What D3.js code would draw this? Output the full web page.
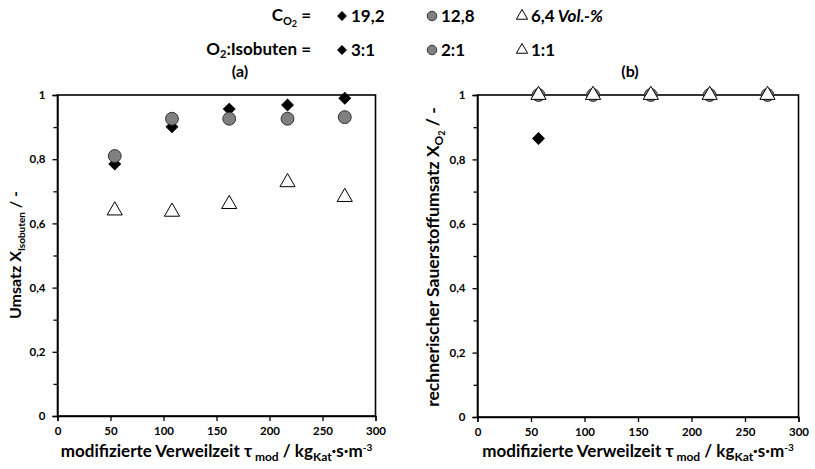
<!DOCTYPE html>
<meta charset="utf-8">
<script src="https://d3js.org/d3.v7.min.js"></script>
<style>
body { margin: 0; background: #fff; }
svg { font-family: Lato, "Open Sans", sans-serif; font-weight: bold; }
.axis path, .axis line { stroke: #000; stroke-width: 1.3; }
.axis text { font-size: 11.5px; font-weight: bold; fill: #000; font-family: Lato, sans-serif; }
.frame { fill: none; stroke: #000; stroke-width: 1.6; }
</style>
<body>
<script>

// data
var tau = [54, 108, 162, 217, 271];
var umsatz_19 = [0.785, 0.901, 0.956, 0.969, 0.99];
var umsatz_12 = [0.81, 0.926, 0.926, 0.926, 0.931];
var umsatz_6 = [0.64, 0.636, 0.66, 0.728, 0.682];
var tau_o2 = [57, 108, 162, 217, 271];
var o2_19 = [0.865, 1, 1, 1, 1];
var o2_12 = [1, 1, 1, 1, 1];
var o2_6 = [1, 1, 1, 1, 1];
var xTicks = [0, 50, 100, 150, 200, 250, 300];
var yTicks = [0, 0.2, 0.4, 0.6, 0.8, 1];
var legendCO2 = ["19,2", "12,8", "6,4"];
var legendRatio = ["3:1", "2:1", "1:1"];

var W = 815, H = 469;
var svg = d3.select("body").append("svg").attr("width", W).attr("height", H);

var fmt = function(d) { return String(d).replace(".", ","); };

var markers = [
  {type: d3.symbolSquare, size: 66, rot: 45, fill: "#000", stroke: "#000"},
  {type: d3.symbolCircle, size: 130, rot: 0, fill: "#808080", stroke: "#333"},
  {type: d3.symbolTriangle, size: 100, rot: 0, fill: "#fff", stroke: "#000"}
];

function drawMarker(g, m, x, y) {
  g.append("path")
    .attr("d", d3.symbol().type(m.type).size(m.size)())
    .attr("transform", "translate(" + x + "," + y + ") rotate(" + m.rot + ")")
    .attr("fill", m.fill)
    .attr("stroke", m.stroke)
    .attr("stroke-width", 1);
}

function panel(x0, x1, y0, y1, series, xs, tag, tagX) {
  var x = d3.scaleLinear().domain([0, 300]).range([x0, x1]);
  var y = d3.scaleLinear().domain([0, 1]).range([y1, y0]);
  var g = svg.append("g");

  // minor ticks
  g.append("g").attr("class", "axis")
    .attr("transform", "translate(" + x0 + ",0)")
    .call(d3.axisLeft(y).tickValues([0.1, 0.3, 0.5, 0.7, 0.9]).tickSize(4).tickFormat(""))
    .select(".domain").remove();

  g.append("g").attr("class", "axis")
    .attr("transform", "translate(" + x0 + ",0)")
    .call(d3.axisLeft(y).tickValues(yTicks).tickSize(5).tickPadding(7).tickFormat(fmt));

  g.append("g").attr("class", "axis")
    .attr("transform", "translate(0," + y1 + ")")
    .call(d3.axisBottom(x).tickValues(xTicks).tickSize(5).tickPadding(6));

  g.append("rect").attr("class", "frame")
    .attr("x", x0).attr("y", y0).attr("width", x1 - x0).attr("height", y1 - y0);

  series.forEach(function(vals, i) {
    vals.forEach(function(v, j) {
      drawMarker(g, markers[i], x(xs[j]), y(v));
    });
  });

  svg.append("text").attr("x", tagX).attr("y", 77)
    .attr("text-anchor", "middle").style("font-size", "16px").text(tag);

  // x title
  var t = svg.append("text").attr("x", (x0 + x1) / 2).attr("y", 457)
    .attr("text-anchor", "middle").style("font-size", "17px");
  t.append("tspan").text("modifizierte Verweilzeit ");
  t.append("tspan").text("τ");
  t.append("tspan").attr("dy", 4).style("font-size", "12px").text(" mod");
  t.append("tspan").attr("dy", -4).text("  / kg");
  t.append("tspan").attr("dy", 4).style("font-size", "12px").text("Kat");
  t.append("tspan").attr("dy", -4).text("·s·m");
  t.append("tspan").attr("dy", -6).style("font-size", "10px").text("-3");
  return {x: x, y: y};
}

panel(57.5, 375.5, 95, 416, [umsatz_19, umsatz_12, umsatz_6], tau, "(a)", 240);
panel(477.5, 798.5, 95, 417, [o2_19, o2_12, o2_6], tau_o2, "(b)", 630);

// y titles
var ly = svg.append("text").attr("transform", "translate(21,255) rotate(-90)")
  .attr("text-anchor", "middle").style("font-size", "16px");
ly.append("tspan").text("Umsatz X");
ly.append("tspan").attr("dy", 4).style("font-size", "10px").text("Isobuten");
ly.append("tspan").attr("dy", -4).text("  / -");

var ry = svg.append("text").attr("transform", "translate(439,257) rotate(-90)")
  .attr("text-anchor", "middle").style("font-size", "17.5px");
ry.append("tspan").text("rechnerischer Sauerstoffumsatz X");
ry.append("tspan").attr("dy", 4).style("font-size", "12px").text("O");
ry.append("tspan").attr("dy", 2).style("font-size", "9px").text("2");
ry.append("tspan").attr("dy", -6).text("  / -");

// legend
var lg = svg.append("g").style("font-size", "17px");
var l1 = lg.append("text").attr("x", 311).attr("y", 21).attr("text-anchor", "end");
l1.append("tspan").text("C");
l1.append("tspan").attr("dy", 4).style("font-size", "11px").text("O");
l1.append("tspan").attr("dy", 2).style("font-size", "9px").text("2");
l1.append("tspan").attr("dy", -6).text(" =");
lg.append("text").attr("x", 311).attr("y", 55).attr("text-anchor", "end")
  .call(function(t) {
    t.append("tspan").text("O");
    t.append("tspan").attr("dy", 3).style("font-size", "11px").text("2");
    t.append("tspan").attr("dy", -3).text(":Isobuten =");
  });
var legX = [342, 432, 522];
legendCO2.forEach(function(s, i) {
  var mk = Object.assign({}, markers[i], {size: markers[i].size * 0.55});
  drawMarker(lg, mk, legX[i], 16);
  var t = lg.append("text").attr("x", legX[i] + 9).attr("y", 22).text(s);
  if (i == 2) t.append("tspan").style("font-style", "italic").text(" Vol.-%");
});
legendRatio.forEach(function(s, i) {
  var mk = Object.assign({}, markers[i], {size: markers[i].size * 0.55});
  drawMarker(lg, mk, legX[i], 50);
  lg.append("text").attr("x", legX[i] + 9).attr("y", 56).text(s);
});

</script>
</body>
</html>
